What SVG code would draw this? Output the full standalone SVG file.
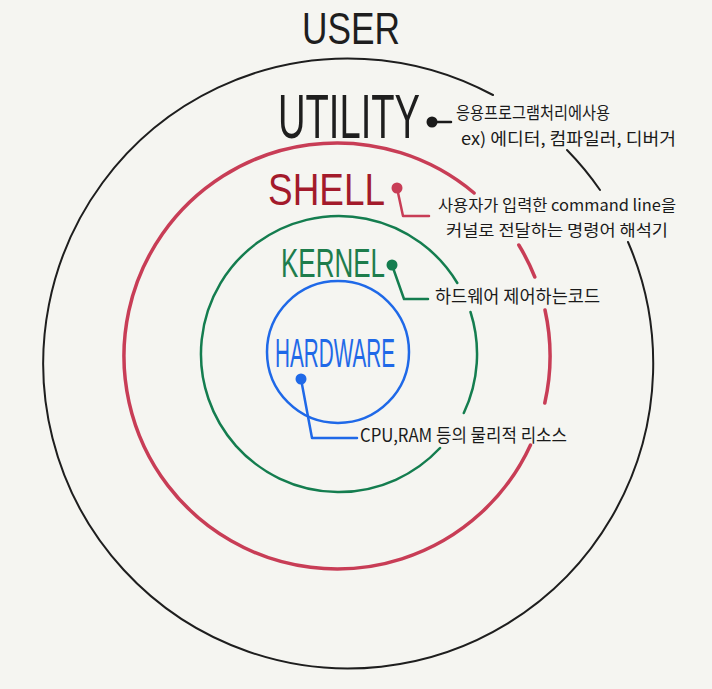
<svg xmlns="http://www.w3.org/2000/svg" width="712" height="689" viewBox="0 0 712 689">
  <style>
    .lbl { font-family: "Liberation Sans", "Noto Sans", sans-serif; }
    .kr { font-family: "Noto Sans CJK KR", "Noto Sans", sans-serif; font-size: 18px; fill: #1a1a1a; }
    .kr17 { font-size: 17px; }
    .kr16 { font-size: 16px; }
    .ring { fill: none; stroke-linecap: round; }
    .conn { fill: none; stroke-width: 2.5; stroke-linejoin: round; stroke-linecap: round; }
  </style>
  <rect x="0" y="0" width="712" height="689" fill="#f5f5f1"/>

  <g id="rings">
    <path id="ring-user" class="ring" stroke="#1e1e1e" stroke-width="2"
          d="M567,150 A305,305 0 0 1 600,190 M628,242 A305,305 0 1 1 493,95"/>
    <path id="ring-shell" class="ring" stroke="#c83d56" stroke-width="3.5"
          d="M518.8,245 A213,213 0 0 1 534.8,277 M545,310 A213,213 0 0 1 544.8,403 M530.5,445 A213,213 0 1 1 474.1,193"/>
    <path id="ring-kernel" class="ring" stroke="#147d4f" stroke-width="2.5"
          d="M470.5,312 A138,138 0 0 1 463.8,413 M440,448 A138,138 0 1 1 457.3,283"/>
    <circle id="ring-hardware" class="ring" cx="338" cy="352" r="71" stroke="#1f69e8" stroke-width="2.5"/>
  </g>

  <g id="user">
    <text class="lbl" x="302" y="44" font-size="44" textLength="98" lengthAdjust="spacingAndGlyphs" fill="#1e1e1e">USER</text>
  </g>

  <g id="utility">
    <text class="lbl" transform="translate(278,138) scale(1,1.35)" x="0" y="0" font-size="46" textLength="142" lengthAdjust="spacingAndGlyphs" fill="#1e1e1e">UTILITY</text>
    <text class="kr kr17" x="456" y="119" textLength="154" lengthAdjust="spacingAndGlyphs">응용프로그램처리에사용</text>
    <text class="kr kr17" x="461" y="145" textLength="215" lengthAdjust="spacingAndGlyphs">ex) 에디터, 컴파일러, 디버거</text>
  </g>

  <g id="shell">
    <text class="lbl" x="268" y="205" font-size="44" textLength="117" lengthAdjust="spacingAndGlyphs" fill="#a31a2b">SHELL</text>
    <text class="kr kr16" x="438" y="211" textLength="238" lengthAdjust="spacingAndGlyphs">사용자가 입력한 command line을</text>
    <text class="kr kr16" x="446" y="236" textLength="222" lengthAdjust="spacingAndGlyphs">커널로 전달하는 명령어 해석기</text>
  </g>

  <g id="kernel">
    <text class="lbl" x="281" y="277" font-size="41" textLength="104" lengthAdjust="spacingAndGlyphs" fill="#1e7d4c">KERNEL</text>
    <text class="kr" x="435" y="303" textLength="165" lengthAdjust="spacingAndGlyphs">하드웨어 제어하는코드</text>
  </g>

  <g id="hardware">
    <text class="lbl" x="275" y="367" font-size="40" textLength="120" lengthAdjust="spacingAndGlyphs" fill="#1f69e8">HARDWARE</text>
    <text class="kr" x="360" y="442" textLength="207" lengthAdjust="spacingAndGlyphs">CPU,RAM 등의 물리적 리소스</text>
  </g>

  <g id="connectors">
    <path class="conn" stroke="#1a1a1a" d="M432,122 L451,122"/>
    <circle cx="432" cy="122" r="5.5" fill="#1a1a1a"/>
    <path class="conn" stroke="#c83d56" d="M397,188 L403,216 L429,216"/>
    <circle cx="397" cy="188" r="5.5" fill="#c83d56"/>
    <path class="conn" stroke="#147d4f" d="M392,265 L404,299 L428,299"/>
    <circle cx="392" cy="265" r="5.5" fill="#147d4f"/>
    <path class="conn" stroke="#1f69e8" d="M301,379 L312,438 L357,438"/>
    <circle cx="301" cy="379" r="5.5" fill="#1f69e8"/>
  </g>
</svg>
